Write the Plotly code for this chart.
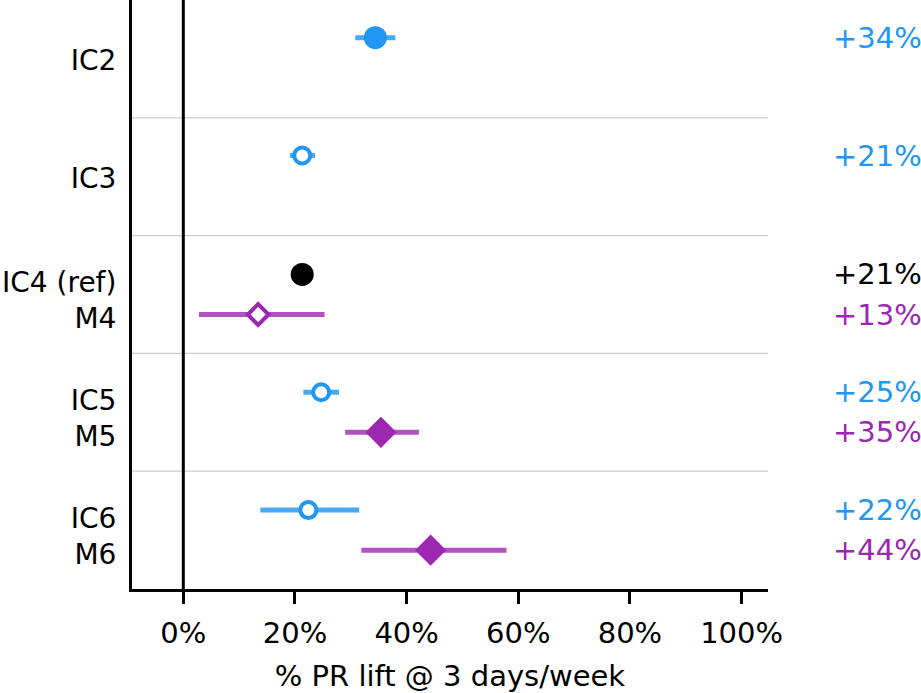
import plotly.graph_objects as go

# ---- data ----
group_labels = ["IC2", "IC3", "IC4 (ref)<br>M4", "IC5<br>M5", "IC6<br>M6"]
group_pos = [0, 1, 2, 3, 4]

ic_names = ["IC2", "IC3", "IC4", "IC5", "IC6"]
ic_group = [0, 1, 2, 3, 4]
ic_lift = [34.4, 21.3, 21.3, 24.7, 22.4]
ic_lo = [30.8, 19.1, 19.4, 21.5, 13.8]
ic_hi = [38.0, 23.6, 23.2, 27.9, 31.5]
ic_filled = [True, False, True, False, False]
ic_ref = [False, False, True, False, False]

m_names = ["M4", "M5", "M6"]
m_group = [2, 3, 4]
m_lift = [13.4, 35.4, 44.3]
m_lo = [2.8, 29.0, 31.9]
m_hi = [25.3, 42.2, 57.9]
m_filled = [False, True, True]

x_ticks = [0, 20, 40, 60, 80, 100]
x_title = "% PR lift @ 3 days/week"

# ---- style ----
BLUE = "#2196F3"
BLUE_ERR = "rgba(33,150,243,0.82)"
PURPLE = "#9C27B0"
PURPLE_ERR = "rgba(156,39,176,0.80)"
BLACK = "#000000"
FONT = "DejaVu Sans"
FS = 29
OFF = 0.17

fig = go.Figure()

def add_point(x, lo, hi, y, color, ecolor, symbol, filled, size):
    fig.add_trace(go.Scatter(
        x=[x], y=[y], mode="markers",
        error_x=dict(type="data", symmetric=False, array=[hi - x], arrayminus=[x - lo],
                     color=ecolor, thickness=5, width=0),
        marker=dict(symbol=symbol, size=size,
                    color=color if filled else "white",
                    line=dict(color=color, width=0 if filled else 4)),
        showlegend=False, hoverinfo="skip"))

annotations = []
for i in range(len(ic_names)):
    y = ic_group[i] - (OFF if ic_group[i] >= 2 else 0.18)
    col = BLACK if ic_ref[i] else BLUE
    ecol = "rgba(0,0,0,0.85)" if ic_ref[i] else BLUE_ERR
    size = 23 if ic_filled[i] else 16
    add_point(ic_lift[i], ic_lo[i], ic_hi[i], y, col, ecol, "circle", ic_filled[i], size)
    annotations.append(dict(x=1.245, xref="paper", y=y, yref="y", xanchor="right", yanchor="middle",
                            text=f"+{round(ic_lift[i])}%", showarrow=False,
                            font=dict(family=FONT, size=FS, color=col)))

for i in range(len(m_names)):
    y = m_group[i] + OFF
    size = 24 if m_filled[i] else 16
    add_point(m_lift[i], m_lo[i], m_hi[i], y, PURPLE, PURPLE_ERR, "diamond", m_filled[i], size)
    annotations.append(dict(x=1.245, xref="paper", y=y, yref="y", xanchor="right", yanchor="middle",
                            text=f"+{round(m_lift[i])}%", showarrow=False,
                            font=dict(family=FONT, size=FS, color=PURPLE)))

shapes = []
for b in [0.5, 1.5, 2.5, 3.5]:
    shapes.append(dict(type="line", xref="paper", x0=0, x1=1, yref="y", y0=b, y1=b,
                       line=dict(color="#cccccc", width=1.2), layer="below"))
shapes.append(dict(type="line", xref="x", x0=0, x1=0, yref="paper", y0=0, y1=1,
                   line=dict(color="black", width=3), layer="below"))

# label positions nudged slightly down like the original layout
label_pos = [p + (0.05 if "<br>" in t else 0.013) for p, t in zip(group_pos, group_labels)]

fig.update_layout(
    width=921, height=693,
    margin=dict(l=132, r=153, t=0, b=104, autoexpand=False),
    paper_bgcolor="white", plot_bgcolor="white",
    font=dict(family=FONT, size=FS, color="black"),
    showlegend=False,
    shapes=shapes,
    annotations=annotations,
    xaxis=dict(range=[-9.19, 104.73], tickvals=x_ticks, ticktext=[f"{v}%" for v in x_ticks],
               showgrid=False, zeroline=False, automargin=False,
               showline=True, linecolor="black", linewidth=3,
               ticks="outside", ticklen=12, tickwidth=3, tickcolor="black",
               ticklabelstandoff=4,
               tickfont=dict(family=FONT, size=FS),
               title=dict(text=x_title, font=dict(family=FONT, size=FS), standoff=20)),
    yaxis=dict(range=[4.5, -0.5], tickvals=label_pos, ticktext=group_labels,
               showgrid=False, zeroline=False, automargin=False,
               showline=True, linecolor="black", linewidth=3,
               ticks="", ticklabelstandoff=7,
               tickfont=dict(family=FONT, size=28)),
)

fig.write_html("out.html")
